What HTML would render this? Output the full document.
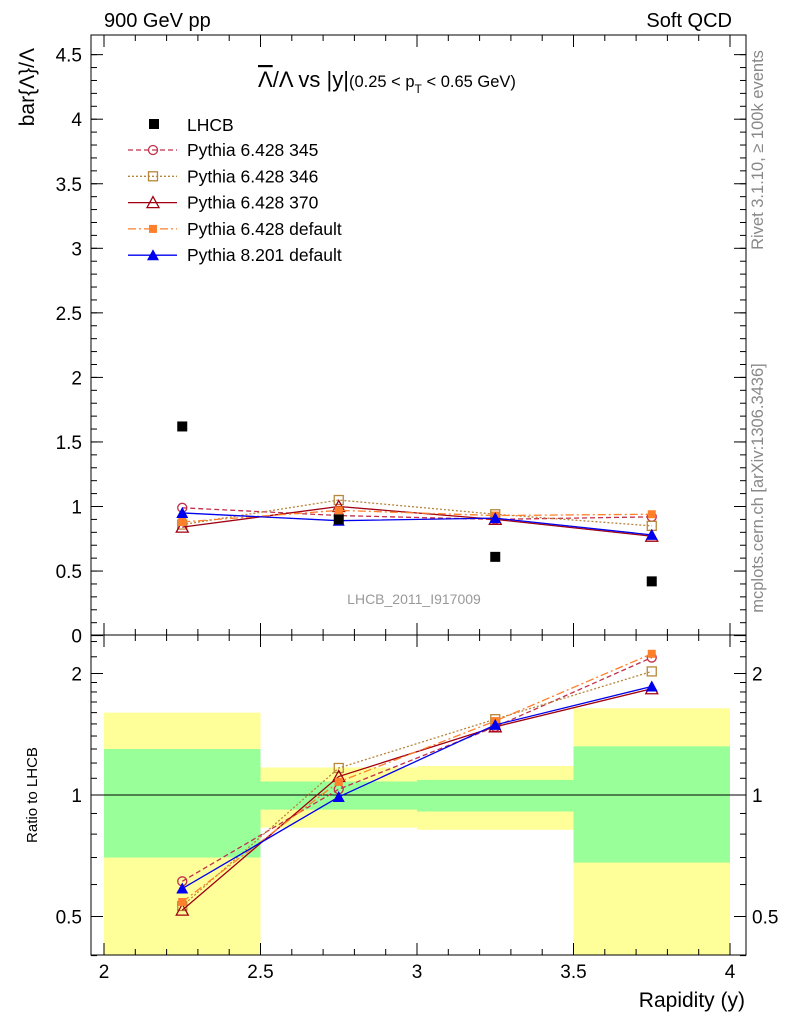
<!DOCTYPE html>
<html><head><meta charset="utf-8"><style>
html,body{margin:0;padding:0;background:#fff;}
svg{display:block;font-family:"Liberation Sans",sans-serif;}
</style></head><body>
<svg id="chart" width="786" height="1024" xmlns="http://www.w3.org/2000/svg">
<text x="104" y="27" font-size="20">900 GeV pp</text>
<text x="732" y="27" font-size="20" text-anchor="end">Soft QCD</text>
<text transform="translate(763,150) rotate(-90)" font-size="16.5" fill="#888" text-anchor="middle">Rivet 3.1.10, ≥ 100k events</text>
<text transform="translate(763,488) rotate(-90)" font-size="16.5" fill="#888" text-anchor="middle">mcplots.cern.ch [arXiv:1306.3436]</text>
<text transform="translate(34,48) rotate(-90)" font-size="21" text-anchor="end">bar{Λ}/Λ</text>
<text transform="translate(37,795) rotate(-90)" font-size="15" text-anchor="middle">Ratio to LHCB</text>
<text x="745" y="1007" font-size="21" text-anchor="end">Rapidity (y)</text>
<text x="258" y="87" font-size="22"><tspan text-decoration="overline">Λ</tspan>/Λ vs |y|<tspan font-size="16.5">(0.25 &lt; p</tspan><tspan font-size="12" dy="6">T</tspan><tspan font-size="16.5" dy="-6"> &lt; 0.65 GeV)</tspan></text>
<text x="414" y="604" font-size="14" fill="#999" text-anchor="middle">LHCB_2011_I917009</text>
<g id="bands"></g>
<g id="axes"></g>
<g id="series"></g>
<g id="legend"></g>
</svg>
<script>
const xBins = [2.25, 2.75, 3.25, 3.75];
const lhcb = [1.62, 0.90, 0.61, 0.42];
const p345 = [0.99, 0.93, 0.90, 0.92];
const p346 = [0.86, 1.05, 0.94, 0.85];
const p370 = [0.84, 1.00, 0.90, 0.77];
const p6def = [0.88, 0.97, 0.93, 0.94];
const p8def = [0.95, 0.89, 0.91, 0.78];
const bandLo = [2.0, 2.5, 3.0, 3.5];
const bandHi = [2.5, 3.0, 3.5, 4.0];
const greenLo = [0.70, 0.92, 0.91, 0.68];
const greenHi = [1.30, 1.08, 1.09, 1.32];
const yellowLo = [0.35, 0.83, 0.82, 0.35];
const yellowHi = [1.60, 1.17, 1.18, 1.64];
const xTicks = [2, 2.5, 3, 3.5, 4];
const yTicks = [0, 0.5, 1, 1.5, 2, 2.5, 3, 3.5, 4, 4.5];
const rTicks = [0.5, 1, 2];

const NS = "http://www.w3.org/2000/svg";
const L = 91, R = 746, T1 = 35, B1 = 635, T2 = 635, B2 = 955;
const X = v => 104 + (v - 2) * 313;
const Y = v => 635.6 - v * 129.1;
const RY = v => 795 - Math.log2(v) * 121.5;
const clampR = v => Math.max(T2, Math.min(B2, RY(v)));
function mk(tag, attrs, parent) {
  const e = document.createElementNS(NS, tag);
  for (const k in attrs) e.setAttribute(k, attrs[k]);
  parent.appendChild(e); return e;
}
const bands = document.getElementById('bands');
bandLo.forEach((lo, i) => {
  const y1 = mk('rect', {x: X(lo), y: clampR(yellowHi[i]), width: X(bandHi[i]) - X(lo), height: clampR(yellowLo[i]) - clampR(yellowHi[i]), fill: '#ffff99'}, bands);
  
  
  const g1 = mk('rect', {x: X(lo), y: clampR(greenHi[i]), width: X(bandHi[i]) - X(lo), height: clampR(greenLo[i]) - clampR(greenHi[i]), fill: '#99ff99'}, bands);
  
  
});
const axes = document.getElementById('axes');
mk('rect', {x: L, y: T1, width: R - L, height: B1 - T1, fill: 'none', stroke: '#000'}, axes);
mk('rect', {x: L, y: T2, width: R - L, height: B2 - T2, fill: 'none', stroke: '#000'}, axes);
mk('line', {x1: L, x2: R, y1: RY(1), y2: RY(1), stroke: '#000'}, axes);
xTicks.forEach(t => {
  [[B1, -12], [T1, 12], [B2, -12], [T2, 12]].forEach(([y, d]) => mk('line', {x1: X(t), x2: X(t), y1: y, y2: y + d, stroke: '#000'}, axes));
  const tx = mk('text', {x: X(t), y: 978, 'font-size': 19, 'text-anchor': 'middle'}, axes);
  tx.textContent = t;
  
  
});
for (let v = 2.1; v < 4; v += 0.1) {
  if (Math.abs((v * 2) - Math.round(v * 2)) < 0.01) continue;
  [[B1, -6], [T1, 6], [B2, -6], [T2, 6]].forEach(([y, d]) => mk('line', {x1: X(v), x2: X(v), y1: y, y2: y + d, stroke: '#000'}, axes));
}
yTicks.forEach(t => {
  mk('line', {x1: L, x2: L + 12, y1: Y(t), y2: Y(t), stroke: '#000'}, axes);
  mk('line', {x1: R, x2: R - 12, y1: Y(t), y2: Y(t), stroke: '#000'}, axes);
  const tx = mk('text', {x: 82, y: Y(t) + 7, 'font-size': 19, 'text-anchor': 'end'}, axes);
  tx.textContent = t;
  
  
});
for (let v = 0.1; v < 4.6; v += 0.1) {
  mk('line', {x1: L, x2: L + 6, y1: Y(v), y2: Y(v), stroke: '#000'}, axes);
  mk('line', {x1: R, x2: R - 6, y1: Y(v), y2: Y(v), stroke: '#000'}, axes);
}
rTicks.forEach(t => {
  mk('line', {x1: L, x2: L + 12, y1: RY(t), y2: RY(t), stroke: '#000'}, axes);
  mk('line', {x1: R, x2: R - 12, y1: RY(t), y2: RY(t), stroke: '#000'}, axes);
  ['l', 'r'].forEach(s => {
    const tx = mk('text', {x: s === 'l' ? 82 : 752, y: RY(t) + 7, 'font-size': 19, 'text-anchor': s === 'l' ? 'end' : 'start'}, axes);
    tx.textContent = t;
    
    
  });
});
[0.4, 0.6, 0.7, 0.8, 0.9, 1.1, 1.2, 1.3, 1.4, 1.5, 1.6, 1.7, 1.8, 1.9, 2.2, 2.4].forEach(t => {
  mk('line', {x1: L, x2: L + 6, y1: RY(t), y2: RY(t), stroke: '#000'}, axes);
  mk('line', {x1: R, x2: R - 6, y1: RY(t), y2: RY(t), stroke: '#000'}, axes);
});

function marker(kind, x, y, color, parent) {
  if (kind === 'sq') return mk('rect', {x: x - 5, y: y - 5, width: 10, height: 10, fill: color}, parent);
  if (kind === 'circ') return mk('circle', {cx: x, cy: y, r: 4.5, fill: 'none', stroke: color, 'stroke-width': 1.3}, parent);
  if (kind === 'osq') return mk('rect', {x: x - 4.5, y: y - 4.5, width: 9, height: 9, fill: 'none', stroke: color, 'stroke-width': 1.3}, parent);
  if (kind === 'otri') return mk('polygon', {points: `${x},${y - 6} ${x - 6},${y + 5} ${x + 6},${y + 5}`, fill: 'none', stroke: color, 'stroke-width': 1.3}, parent);
  if (kind === 'fsq') return mk('rect', {x: x - 4, y: y - 4, width: 8, height: 8, fill: color}, parent);
  if (kind === 'ftri') return mk('polygon', {points: `${x},${y - 6} ${x - 6},${y + 5} ${x + 6},${y + 5}`, fill: color}, parent);
}
const series = [
  {name: 'Pythia 6.428 345', vals: p345, color: '#c0304a', dash: '5,3', m: 'circ', id: 'p345'},
  {name: 'Pythia 6.428 346', vals: p346, color: '#b8863b', dash: '2,2', m: 'osq', id: 'p346'},
  {name: 'Pythia 6.428 370', vals: p370, color: '#a00010', dash: '', m: 'otri', id: 'p370'},
  {name: 'Pythia 6.428 default', vals: p6def, color: '#ff7f2a', dash: '8,3,2,3', m: 'fsq', id: 'p6def'},
  {name: 'Pythia 8.201 default', vals: p8def, color: '#0000ee', dash: '', m: 'ftri', id: 'p8def'}
];
const sg = document.getElementById('series');
series.forEach(s => {
  const g = mk('g', {}, sg);
  
  
  const pts = xBins.map((x, i) => `${X(x)},${Y(s.vals[i])}`).join(' ');
  mk('polyline', {points: pts, fill: 'none', stroke: s.color, 'stroke-width': 1.3, 'stroke-dasharray': s.dash}, g);
  const rpts = xBins.map((x, i) => `${X(x)},${RY(s.vals[i] / lhcb[i])}`).join(' ');
  mk('polyline', {points: rpts, fill: 'none', stroke: s.color, 'stroke-width': 1.3, 'stroke-dasharray': s.dash}, g);
  xBins.forEach((x, i) => {
    const m1 = marker(s.m, X(x), Y(s.vals[i]), s.color, g);
    
    
    const m2 = marker(s.m, X(x), RY(s.vals[i] / lhcb[i]), s.color, g);
    
    
  });
});
xBins.forEach((x, i) => {
  const m = marker('sq', X(x), Y(lhcb[i]), '#000', sg);
  
  
});
const lg = document.getElementById('legend');
const lh = mk('rect', {x: 149, y: 119, width: 10, height: 10, fill: '#000'}, lg);


const lt = mk('text', {x: 187, y: 131, 'font-size': 17.5}, lg);
lt.textContent = 'LHCB';


series.forEach((s, i) => {
  const y = 150 + i * 26.3;
  mk('line', {x1: 128, x2: 177, y1: y, y2: y, stroke: s.color, 'stroke-width': 1.3, 'stroke-dasharray': s.dash}, lg);
  marker(s.m, 153, y, s.color, lg);
  const t = mk('text', {x: 187, y: y + 6, 'font-size': 17.5}, lg);
  t.textContent = s.name;
  
  
});
</script>
</body></html>
